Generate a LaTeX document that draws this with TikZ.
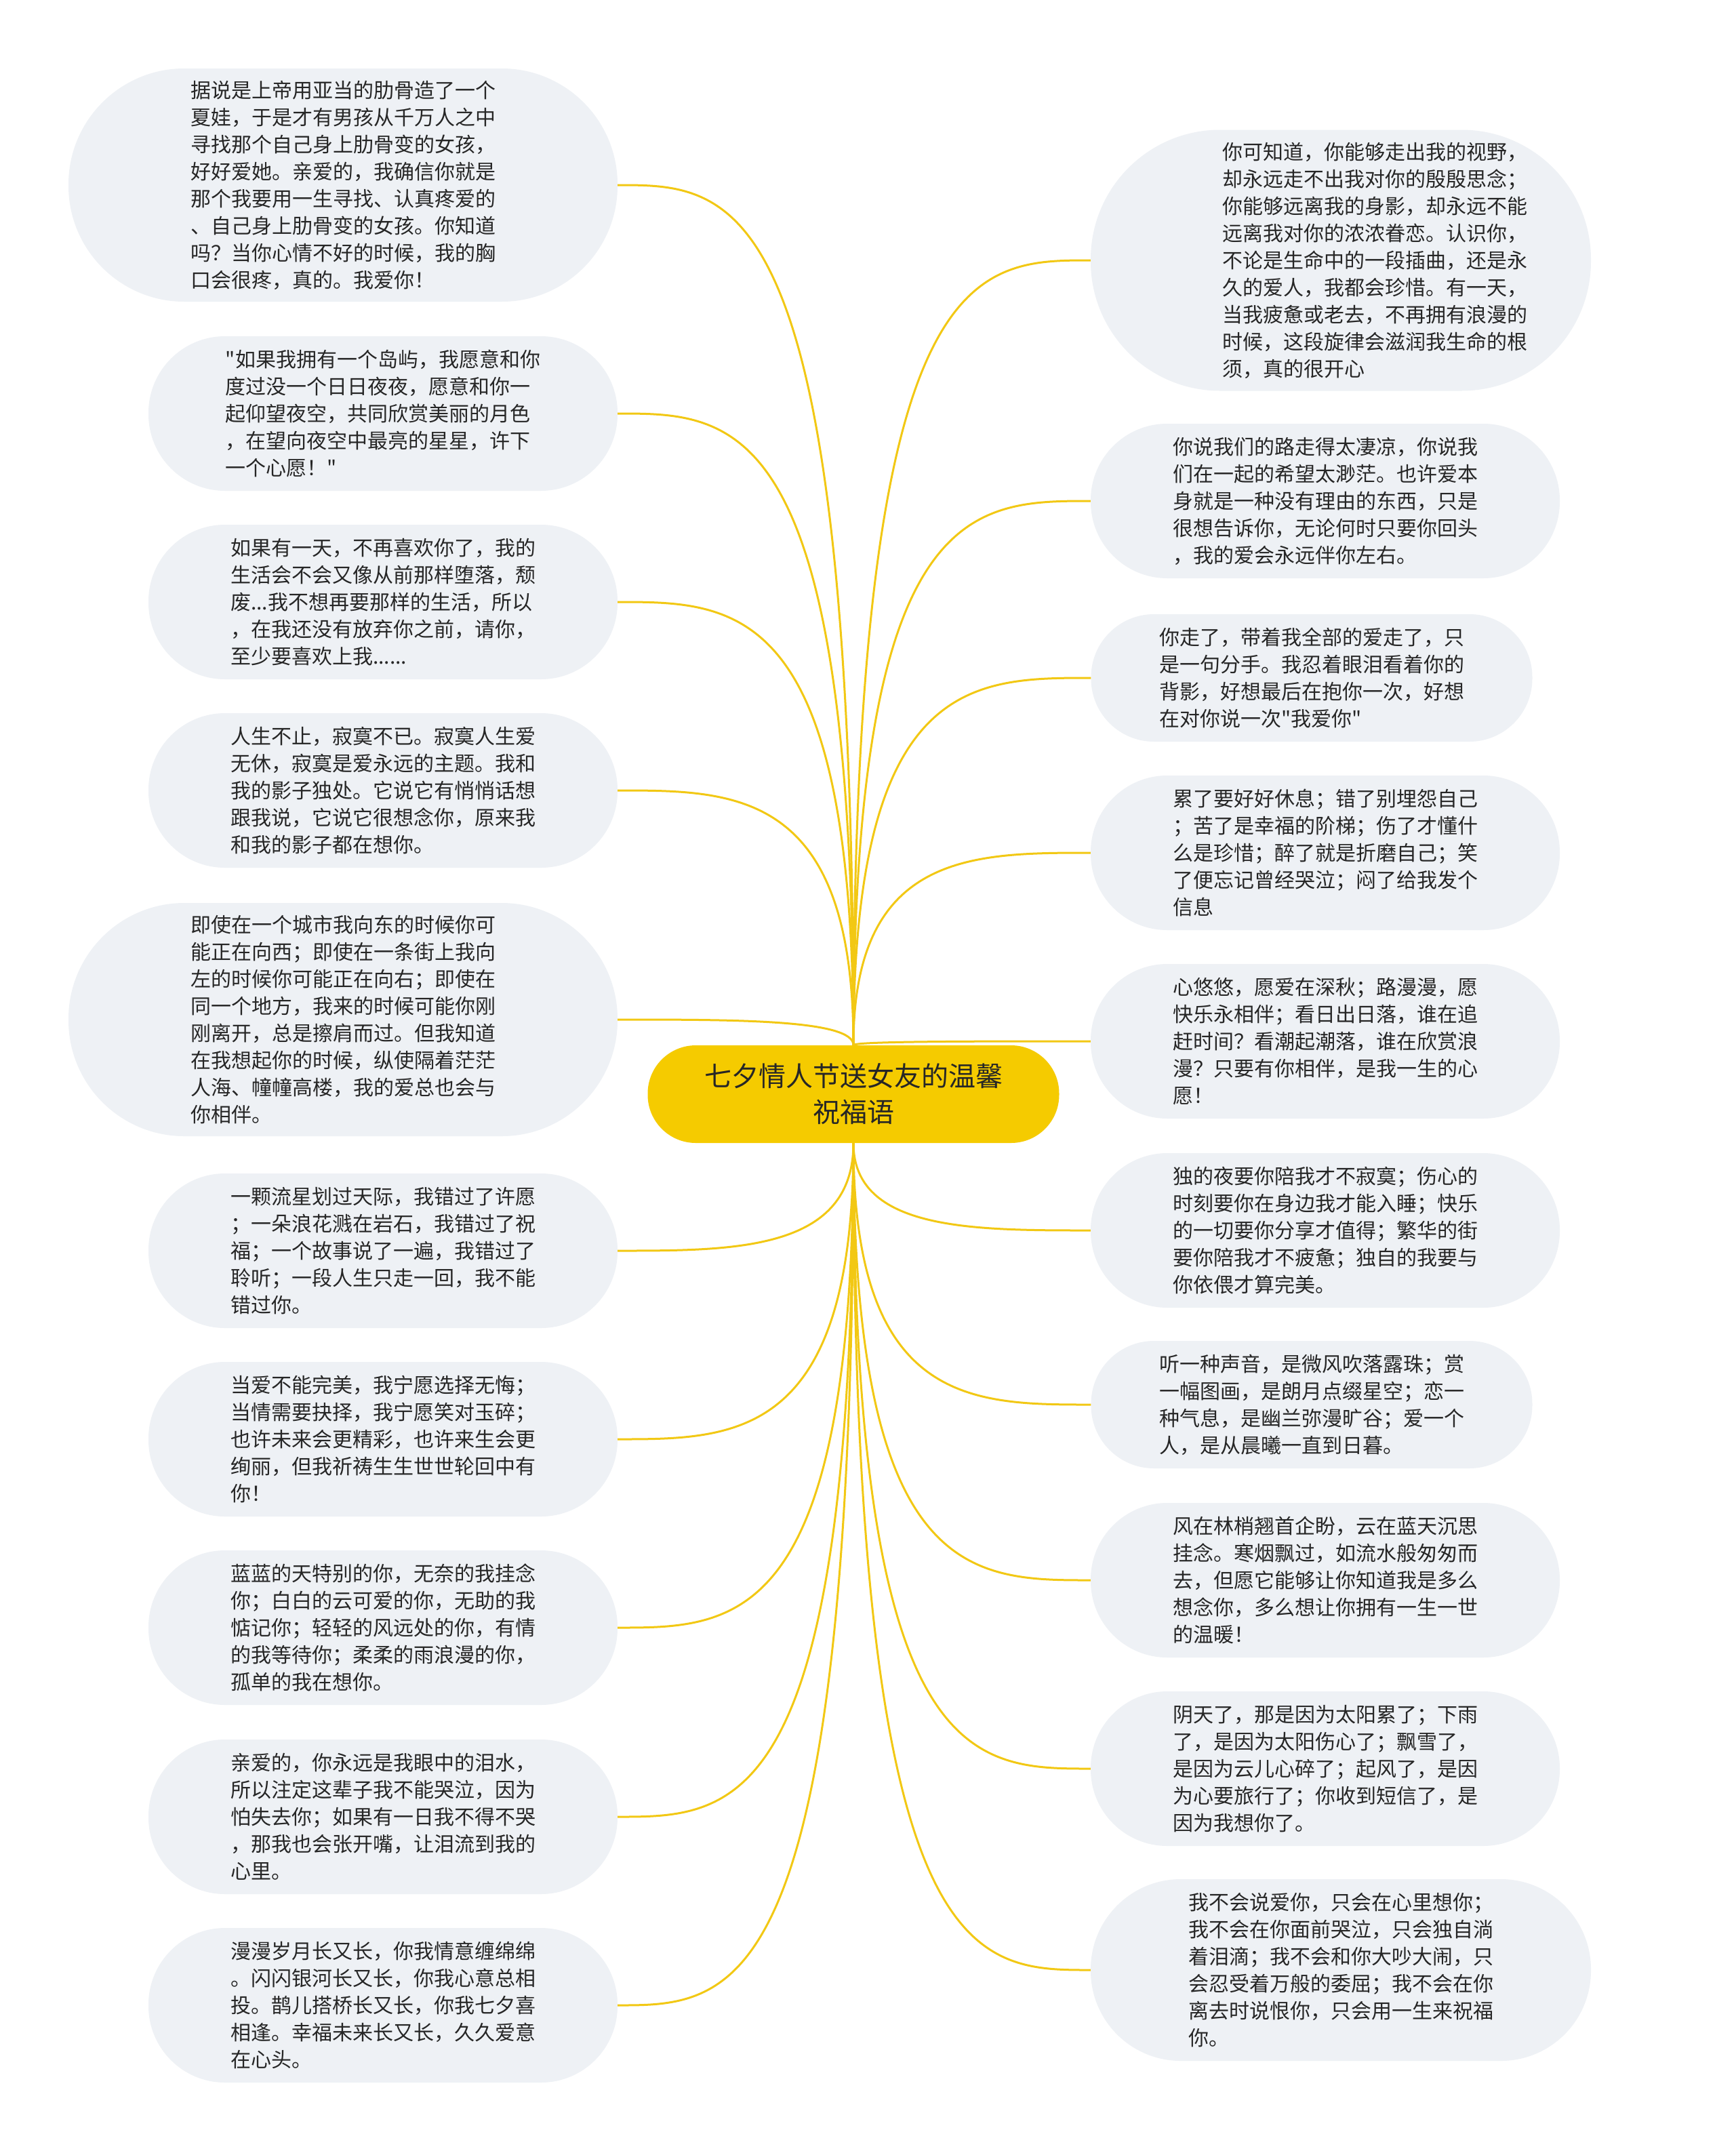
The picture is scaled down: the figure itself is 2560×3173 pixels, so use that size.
\documentclass[tikz,border=0pt]{standalone}
\usepackage{fontspec}
\setmainfont{Noto Sans CJK SC}[Ligatures=TeXOff]
\usetikzlibrary{calc}
\definecolor{leafc}{RGB}{238,241,245}
\definecolor{yel}{RGB}{245,203,0}
\definecolor{linec}{RGB}{242,200,20}
\definecolor{txt}{RGB}{38,38,38}
\newcommand\qq{\symbol{34}}
\newcommand\indr{\hspace*{100pt}}
\tikzset{
  leaf/.style n args={3}{fill=leafc, draw=none, text=txt, align=left, inner sep=0pt,
    minimum width=#1, minimum height=#2, rounded corners=#3,
    font=\fontsize{30}{40}\selectfont},
  root/.style={fill=yel, draw=none, text=txt, align=center, inner sep=0pt,
    minimum width=607pt, minimum height=144pt, rounded corners=71pt,
    font=\fontsize{40}{53}\selectfont},
  link/.style={draw=linec, line width=3pt}
}
\begin{document}
\begin{tikzpicture}[x=1pt,y=-1pt]
\useasboundingbox (0,0) rectangle (2560,3173);
\fill[white] (0,0) rectangle (2560,3173);

\node[root] (c) at (1259,1614) {七夕情人节送女友的温馨\\祝福语};

% left column
\node[leaf={810pt}{344pt}{171pt}] (l1) at (506,273) {据说是上帝用亚当的肋骨造了一个\\夏娃，于是才有男孩从千万人之中\\寻找那个自己身上肋骨变的女孩，\\好好爱她。亲爱的，我确信你就是\\那个我要用一生寻找、认真疼爱的\\、自己身上肋骨变的女孩。你知道\\吗？当你心情不好的时候，我的胸\\口会很疼，真的。我爱你！};
\node[leaf={692pt}{228pt}{113pt}] (l2) at (565,610) {\qq 如果我拥有一个岛屿，我愿意和你\\度过没一个日日夜夜，愿意和你一\\起仰望夜空，共同欣赏美丽的月色\\，在望向夜空中最亮的星星，许下\\一个心愿！\qq};
\node[leaf={692pt}{228pt}{113pt}] (l3) at (565,888) {如果有一天，不再喜欢你了，我的\\生活会不会又像从前那样堕落，颓\\废...我不想再要那样的生活，所以\\，在我还没有放弃你之前，请你，\\至少要喜欢上我......};
\node[leaf={692pt}{228pt}{113pt}] (l4) at (565,1166) {人生不止，寂寞不已。寂寞人生爱\\无休，寂寞是爱永远的主题。我和\\我的影子独处。它说它有悄悄话想\\跟我说，它说它很想念你，原来我\\和我的影子都在想你。};
\node[leaf={810pt}{344pt}{171pt}] (l5) at (506,1504) {即使在一个城市我向东的时候你可\\能正在向西；即使在一条街上我向\\左的时候你可能正在向右；即使在\\同一个地方，我来的时候可能你刚\\刚离开，总是擦肩而过。但我知道\\在我想起你的时候，纵使隔着茫茫\\人海、幢幢高楼，我的爱总也会与\\你相伴。};
\node[leaf={692pt}{228pt}{113pt}] (l6) at (565,1845) {一颗流星划过天际，我错过了许愿\\；一朵浪花溅在岩石，我错过了祝\\福；一个故事说了一遍，我错过了\\聆听；一段人生只走一回，我不能\\错过你。};
\node[leaf={692pt}{228pt}{113pt}] (l7) at (565,2123) {当爱不能完美，我宁愿选择无悔；\\当情需要抉择，我宁愿笑对玉碎；\\也许未来会更精彩，也许来生会更\\绚丽，但我祈祷生生世世轮回中有\\你！};
\node[leaf={692pt}{228pt}{113pt}] (l8) at (565,2401) {蓝蓝的天特别的你，无奈的我挂念\\你；白白的云可爱的你，无助的我\\惦记你；轻轻的风远处的你，有情\\的我等待你；柔柔的雨浪漫的你，\\孤单的我在想你。};
\node[leaf={692pt}{228pt}{113pt}] (l9) at (565,2680) {亲爱的，你永远是我眼中的泪水，\\所以注定这辈子我不能哭泣，因为\\怕失去你；如果有一日我不得不哭\\，那我也会张开嘴，让泪流到我的\\心里。};
\node[leaf={692pt}{228pt}{113pt}] (l10) at (565,2958) {漫漫岁月长又长，你我情意缠绵绵\\。闪闪银河长又长，你我心意总相\\投。鹊儿搭桥长又长，你我七夕喜\\相逢。幸福未来长又长，久久爱意\\在心头。};

% right column
\node[leaf={738pt}{385pt}{191pt}] (r1) at (1978,384) {\indr 你可知道，你能够走出我的视野，\\\indr 却永远走不出我对你的殷殷思念；\\\indr 你能够远离我的身影，却永远不能\\\indr 远离我对你的浓浓眷恋。认识你，\\\indr 不论是生命中的一段插曲，还是永\\\indr 久的爱人，我都会珍惜。有一天，\\\indr 当我疲惫或老去，不再拥有浪漫的\\\indr 时候，这段旋律会滋润我生命的根\\\indr 须，真的很开心};
\node[leaf={692pt}{228pt}{113pt}] (r2) at (1955,739) {你说我们的路走得太凄凉，你说我\\们在一起的希望太渺茫。也许爱本\\身就是一种没有理由的东西，只是\\很想告诉你，无论何时只要你回头\\，我的爱会永远伴你左右。};
\node[leaf={651pt}{188pt}{93pt}] (r3) at (1935,1000) {你走了，带着我全部的爱走了，只\\是一句分手。我忍着眼泪看着你的\\背影，好想最后在抱你一次，好想\\在对你说一次\qq 我爱你\qq};
\node[leaf={692pt}{228pt}{113pt}] (r4) at (1955,1258) {累了要好好休息；错了别埋怨自己\\；苦了是幸福的阶梯；伤了才懂什\\么是珍惜；醉了就是折磨自己；笑\\了便忘记曾经哭泣；闷了给我发个\\信息};
\node[leaf={692pt}{228pt}{113pt}] (r5) at (1955,1536) {心悠悠，愿爱在深秋；路漫漫，愿\\快乐永相伴；看日出日落，谁在追\\赶时间？看潮起潮落，谁在欣赏浪\\漫？只要有你相伴，是我一生的心\\愿！};
\node[leaf={692pt}{228pt}{113pt}] (r6) at (1955,1815) {独的夜要你陪我才不寂寞；伤心的\\时刻要你在身边我才能入睡；快乐\\的一切要你分享才值得；繁华的街\\要你陪我才不疲惫；独自的我要与\\你依偎才算完美。};
\node[leaf={651pt}{188pt}{93pt}] (r7) at (1935,2072) {听一种声音，是微风吹落露珠；赏\\一幅图画，是朗月点缀星空；恋一\\种气息，是幽兰弥漫旷谷；爱一个\\人，是从晨曦一直到日暮。};
\node[leaf={692pt}{228pt}{113pt}] (r8) at (1955,2331) {风在林梢翘首企盼，云在蓝天沉思\\挂念。寒烟飘过，如流水般匆匆而\\去，但愿它能够让你知道我是多么\\想念你，多么想让你拥有一生一世\\的温暖！};
\node[leaf={692pt}{228pt}{113pt}] (r9) at (1955,2609) {阴天了，那是因为太阳累了；下雨\\了，是因为太阳伤心了；飘雪了，\\是因为云儿心碎了；起风了，是因\\为心要旅行了；你收到短信了，是\\因为我想你了。};
\node[leaf={738pt}{268pt}{133pt}] (r10) at (1978,2906) {我不会说爱你，只会在心里想你；\\我不会在你面前哭泣，只会独自淌\\着泪滴；我不会和你大吵大闹，只\\会忍受着万般的委屈；我不会在你\\离去时说恨你，只会用一生来祝福\\你。};

% connectors
\foreach \n in {l1,l2,l3,l4,l5}{
  \draw[link] (c.north) .. controls (c.north |- \n.east) and ($(c.north |- \n.east)!0.5!(\n.east)$) .. (\n.east);
}
\foreach \n in {l6,l7,l8,l9,l10}{
  \draw[link] (c.south) .. controls (c.south |- \n.east) and ($(c.south |- \n.east)!0.5!(\n.east)$) .. (\n.east);
}
\foreach \n in {r1,r2,r3,r4,r5}{
  \draw[link] (c.north) .. controls (c.north |- \n.west) and ($(c.north |- \n.west)!0.5!(\n.west)$) .. (\n.west);
}
\foreach \n in {r6,r7,r8,r9,r10}{
  \draw[link] (c.south) .. controls (c.south |- \n.west) and ($(c.south |- \n.west)!0.5!(\n.west)$) .. (\n.west);
}
\end{tikzpicture}
\end{document}
